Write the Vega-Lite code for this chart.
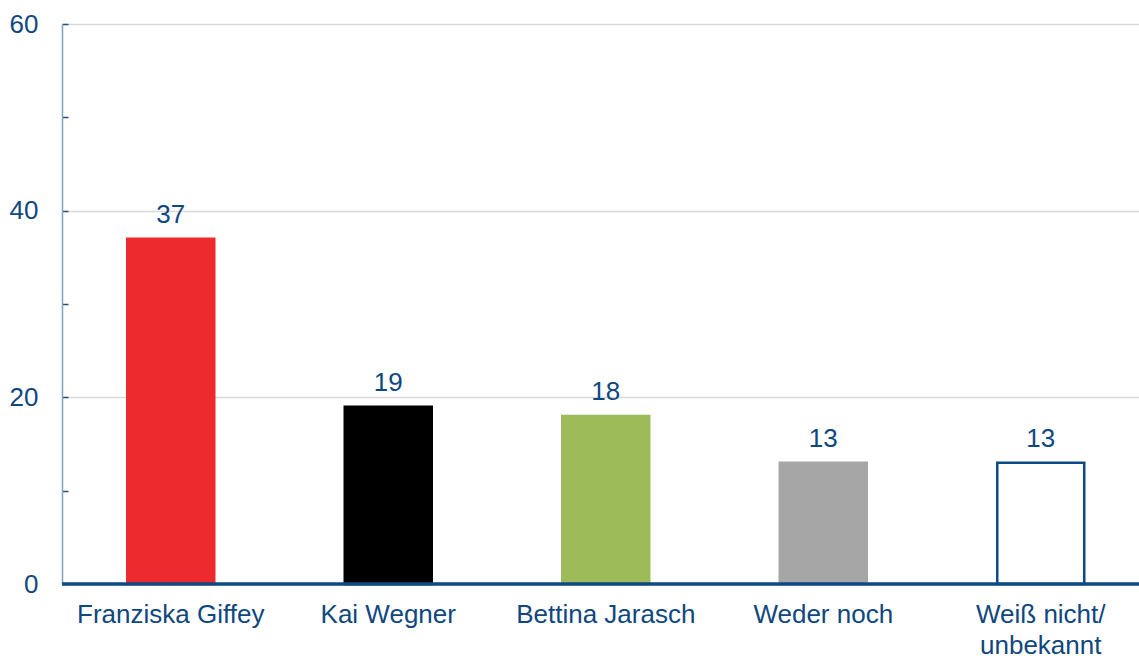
{
  "$schema": "https://vega.github.io/schema/vega-lite/v6.json",
  "autosize": {"type": "none"},
  "width": 1077,
  "height": 560,
  "padding": {"left": 62, "top": 24, "right": 0, "bottom": 75},
  "background": "white",
  "config": {
    "view": {"stroke": null},
    "font": "Liberation Sans"
  },
  "data": {
    "values": [
      {"name": "Franziska Giffey", "value": 37, "fill": "#ed2a2e", "stroke": "#ed2a2e"},
      {"name": "Kai Wegner", "value": 19, "fill": "#000000", "stroke": "#000000"},
      {"name": "Bettina Jarasch", "value": 18, "fill": "#9dbb59", "stroke": "#9dbb59"},
      {"name": "Weder noch", "value": 13, "fill": "#a6a6a6", "stroke": "#a6a6a6"},
      {"name": "Weiß nicht/\nunbekannt", "value": 13, "fill": "#ffffff", "stroke": "#0b4a86"}
    ]
  },
  "encoding": {
    "x": {
      "field": "name",
      "type": "nominal",
      "sort": null,
      "scale": {"range": [0, 1087.5], "paddingInner": 0.6, "paddingOuter": 0.3},
      "axis": {
        "title": null,
        "domain": false,
        "ticks": false,
        "labelAngle": 0,
        "labelFontSize": 26,
        "labelColor": "#0f477f",
        "labelPadding": 17,
        "labelLineHeight": 31,
        "labelLimit": 400,
        "labelExpr": "split(datum.label, '\\n')"
      }
    },
    "y": {
      "field": "value",
      "type": "quantitative",
      "scale": {"domain": [0, 60], "nice": false},
      "axis": {
        "title": null,
        "values": [0, 10, 20, 30, 40, 50, 60],
        "labelExpr": "datum.value % 20 === 0 ? datum.label : ''",
        "labelFontSize": 26,
        "labelColor": "#0f477f",
        "labelPadding": 30,
        "tickSize": -6,
        "tickColor": "#1f5288",
        "tickWidth": 1.5,
        "domainColor": "#7f9fbf",
        "domainWidth": 1.5,
        "gridColor": {"condition": {"test": "datum.value % 20 === 0 && datum.value > 0", "value": "#d9d9d9"}, "value": "transparent"},
        "gridWidth": 1.5
      }
    }
  },
  "layer": [
    {
      "mark": {"type": "bar", "strokeWidth": 2.5},
      "encoding": {
        "fill": {"field": "fill", "type": "nominal", "scale": null},
        "stroke": {"field": "stroke", "type": "nominal", "scale": null}
      }
    },
    {
      "mark": {"type": "text", "dy": -16, "baseline": "alphabetic", "fontSize": 26, "color": "#0f477f"},
      "encoding": {
        "text": {"field": "value", "type": "quantitative"}
      }
    },
    {
      "data": {"values": [{"y0": 0}]},
      "mark": {"type": "rule", "color": "#0b4a86", "strokeWidth": 3.5},
      "encoding": {
        "x": null,
        "y": {"field": "y0", "type": "quantitative"}
      }
    }
  ]
}
